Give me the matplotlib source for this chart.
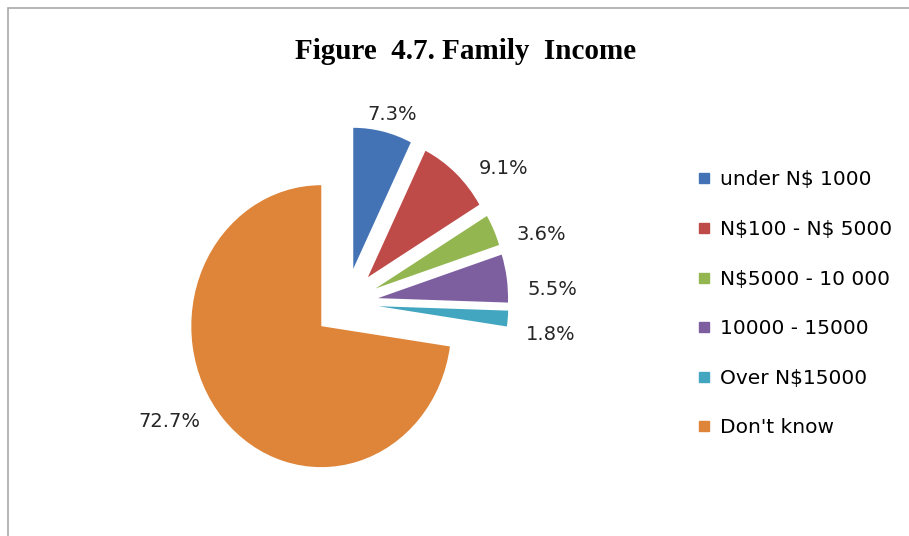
import matplotlib.pyplot as plt
from matplotlib.lines import Line2D
import numpy as np

# family income shares in percent
categories = [r"under N\$ 1000", r"N\$100 - N\$ 5000", r"N\$5000 - 10 000",
              "10000 - 15000", r"Over N\$15000", "Don't know"]
shares = [7.3, 9.1, 3.6, 5.5, 1.8, 72.7]
colors = ["#4373B5", "#BE4B48", "#93B650", "#7D5FA0", "#43A6C0", "#DE853A"]

fig = plt.figure(figsize=(9.09, 5.36), dpi=100)
ax = fig.add_axes([0.166, 0.040, 0.429, 0.789])

wedges, _ = ax.pie(shares, colors=colors, startangle=90, counterclock=False,
                   explode=[0.25] * len(shares), wedgeprops=dict(linewidth=0))
ax.set_aspect("auto")
ax.set_xlim(-1.5, 1.5)
ax.set_ylim(-1.5, 1.5)

# percentage labels just outside each slice, turned a little clockwise
for w, s in zip(wedges, shares):
    ang = np.deg2rad((w.theta1 + w.theta2) / 2 - 5)
    cx, cy = w.center
    x = cx + 1.15 * np.cos(ang)
    y = cy + 1.15 * np.sin(ang)
    if abs(np.cos(ang)) < 0.35:
        ha = "center"
        x -= 0.06
    else:
        ha = "left" if x > cx else "right"
    ax.text(x, y, "%.1f%%" % s, ha=ha, va="center", fontsize=14,
            color="#262626", family="DejaVu Sans")

fig.text(0.512, 0.903, "Figure  4.7. Family  Income", ha="center", va="center",
         fontsize=21, fontweight="bold", family="Liberation Serif")

handles = [Line2D([], [], marker="s", linestyle="none", markersize=7.5,
                  markerfacecolor=c, markeredgecolor=c) for c in colors]
fig.legend(handles, categories, loc="center left", bbox_to_anchor=(0.748, 0.433),
           frameon=False, handlelength=0.6, handletextpad=0.5, labelspacing=1.52,
           prop=dict(family="DejaVu Sans", size=14.5))

# light frame round the chart area
fig.add_artist(plt.Rectangle((8 / 909, -0.01), 1.0, 1 - 8 / 536 + 0.01,
                             transform=fig.transFigure, fill=False,
                             edgecolor="#a8a8a8", linewidth=1.2))

fig.savefig("out.png", dpi=100)
